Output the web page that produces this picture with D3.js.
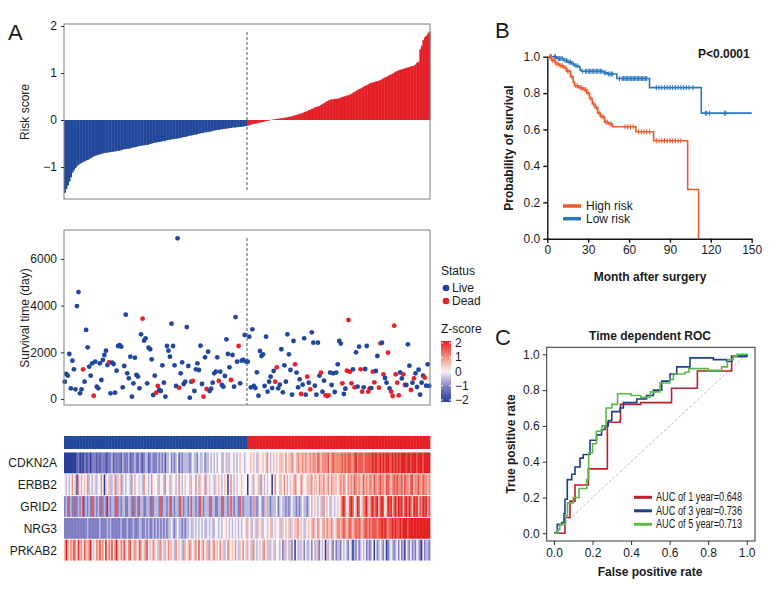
<!DOCTYPE html>
<html>
<head>
<meta charset="utf-8">
<script src="https://cdn.jsdelivr.net/npm/d3@7"></script>
<style>
  body { margin: 0; background: #fff; }
  svg text { font-family: "Liberation Sans", Arial, sans-serif; fill: #1a1a1a; }
</style>
</head>
<body>
<svg id="chart" width="780" height="600"></svg>
<script>
// ---- data: risk score per patient, sorted (low risk first) ----
var riskScore = [
  -1.55,-1.47,-1.39,-1.31,-1.22,-1.12,-1.07,-1.02,-0.98,-0.95,
  -0.93,-0.91,-0.89,-0.88,-0.86,-0.85,-0.83,-0.81,-0.79,-0.77,
  -0.76,-0.75,-0.74,-0.73,-0.72,-0.71,-0.70,-0.70,-0.69,-0.69,
  -0.68,-0.68,-0.67,-0.67,-0.66,-0.66,-0.65,-0.64,-0.63,-0.62,
  -0.62,-0.61,-0.61,-0.60,-0.59,-0.58,-0.58,-0.57,-0.56,-0.55,
  -0.55,-0.54,-0.54,-0.53,-0.53,-0.52,-0.51,-0.50,-0.49,-0.48,
  -0.48,-0.47,-0.47,-0.46,-0.45,-0.45,-0.44,-0.43,-0.42,-0.42,
  -0.41,-0.41,-0.40,-0.40,-0.39,-0.39,-0.38,-0.37,-0.36,-0.36,
  -0.35,-0.34,-0.33,-0.33,-0.32,-0.31,-0.31,-0.30,-0.29,-0.28,
  -0.28,-0.27,-0.26,-0.26,-0.25,-0.25,-0.24,-0.23,-0.22,-0.22,
  -0.21,-0.21,-0.20,-0.20,-0.19,-0.19,-0.18,-0.18,-0.17,-0.17,
  -0.16,-0.16,-0.16,-0.15,-0.15,-0.15,-0.14,-0.14,-0.13,-0.13,
  -0.12,-0.11,-0.10,-0.09,-0.08,-0.08,-0.07,-0.06,-0.05,-0.05,
  -0.04,-0.03,-0.02,-0.02,-0.01,0.00,0.01,0.01,0.02,0.02,
  0.03,0.03,0.04,0.04,0.05,0.05,0.06,0.07,0.07,0.08,
  0.09,0.10,0.11,0.12,0.13,0.14,0.15,0.17,0.18,0.19,
  0.21,0.22,0.24,0.25,0.27,0.28,0.29,0.30,0.32,0.34,
  0.36,0.38,0.40,0.42,0.43,0.44,0.44,0.45,0.45,0.46,
  0.46,0.48,0.49,0.50,0.51,0.52,0.53,0.54,0.56,0.58,
  0.60,0.62,0.64,0.66,0.67,0.69,0.71,0.73,0.74,0.76,
  0.78,0.79,0.80,0.81,0.82,0.83,0.84,0.85,0.87,0.89,
  0.91,0.92,0.94,0.96,0.97,0.99,1.01,1.03,1.04,1.06,
  1.07,1.08,1.09,1.10,1.11,1.12,1.13,1.14,1.15,1.16,
  1.18,1.22,1.24,1.50,1.58,1.70,1.76,1.79,1.84,1.88
];

// survival time (days) and status (1 = dead), same patient order
var survTime = [
  741,1070,1000,1927,458,1640,1270,414,3979,4579,
  243,414,1270,741,2960,2213,1384,1000,1527,140,
  1598,527,457,1527,814,1670,1884,2070,1455,1570,
  243,1555,1498,270,1213,2270,2310,2240,498,1413,
  3610,1098,884,1812,100,670,1770,1028,960,456,
  2770,3440,2500,2600,670,2200,2130,1698,171,1000,
  270,557,385,343,1442,700,100,2270,2070,1812,
  3225,2270,1442,557,6880,484,1098,1570,642,741,
  3080,1413,57,741,770,343,1270,1527,1242,2285,
  642,100,1784,428,2027,343,442,700,1098,1170,
  1784,770,1170,600,528,984,2556,1927,1356,813,
  1884,528,3510,1598,2270,670,1640,1670,2740,1598,
  1598,2668,500,2985,557,470,1142,143,2055,1841,
  1914,557,2668,313,742,955,470,1200,741,1357,
  457,614,2130,286,1442,743,2770,1914,1242,186,
  2484,1484,1130,500,843,214,613,2600,186,955,
  700,415,2856,2411,571,185,2411,1000,1127,313,
  785,157,128,157,1130,600,1100,300,1130,1484,
  2484,2373,672,214,443,1212,3383,1170,672,1270,
  500,2000,528,2240,1270,313,500,1285,2270,313,
  458,470,1170,715,1200,1841,484,2384,2411,1057,
  900,700,1984,457,313,128,3140,1057,700,157,
  1140,880,1057,600,600,2341,1427,385,700,885,
  1100,514,1256,186,700,1000,913,571,1484,560
];
var survStatus = [
  0,0,0,0,0,0,0,0,0,0, 0,0,1,0,0,0,0,0,0,1,
  0,0,0,0,0,0,0,0,0,1, 0,0,0,0,0,0,0,0,0,0,
  0,0,0,0,0,0,0,0,0,0, 0,1,0,0,0,0,0,0,0,0,
  1,1,0,0,0,0,0,0,0,0, 0,0,0,0,0,1,0,0,0,0,
  0,0,0,0,1,0,0,0,0,0, 0,1,0,1,0,0,0,0,0,0,
  0,1,0,0,0,0,0,0,0,1, 0,0,0,0,1,0,0,0,0,0,
  0,0,0,0,0,0,0,0,0,0, 0,0,0,0,0,0,0,0,1,1,
  0,0,0,0,0,0,0,0,0,0, 0,1,0,0,0,1,0,0,0,1,
  0,1,0,0,0,0,0,0,1,0, 0,1,1,1,0,0,0,0,0,0,
  0,0,1,0,0,1,1,1,1,0, 1,0,0,0,1,1,0,0,0,1,
  1,0,1,1,0,0,1,1,0,1, 0,0,1,0,1,1,1,1,1,1,
  0,0,1,1,0,0,0,1,0,1, 0,0,0,0,0,0,1,0,0,0
];

// heatmap z-scores, coded 0..8 for -2..2 in steps of 0.5
var genes = ["CDKN2A", "ERBB2", "GRID2", "NRG3", "PRKAB2"];
var zCodes = [
  ["00000000120102112022","21212221122312222132","22312232132123312322","23232313342323413233",
   "33234332433423343434","34433435344343454434","44545435445456434545","45554645565456556565",
   "56566576566667567666","66767677667867776777","77878778787887787878","78887887888788878888"].join(""),
  ["43434643164345463434","53446405453346354634","34436434454364434644","45344364435443464345",
   "44534464354463454435","45434540464345445444","04453445364345440464","45546434545654465445",
   "55645546556456465554","56565465657656557565","66576567665776567676","67576657756676576656"].join(""),
  ["23273227232382323272","32327232832332723233","22332723273322332723","33272332372323327323",
   "32373323273233327332","23372332373233273233","33236323432353323334","23433232343323234332",
   "34345434536454354345","45786457874587456785","57867857874587857868","78578687587857687857"].join(""),
  ["22222222222222232222","22232222323222222322","23222322233223232232","32323232334323433232",
   "33433434343433434334","43434454343454343445","34534535453445453454","45354545354556454354",
   "54565465456465565456","65676567656767656776","76777677878767787877","87888788888888888888"].join(""),
  ["58646576485647556845","46575648465746854657","54674565476456745465","45364534655436454365",
   "45654564745645364564","54645346545464354645","34536434543643534534","43425343524043534243",
   "34243532434053432423","32434324303242343423","23404234324023432342","42304324232432042332"].join("")
];
var zTicks = [2, 1, 0, -1, -2];

// Kaplan-Meier (months): step times and survival after each step
var highTime = [0,3,6,9,12,14,17,19,20,23,26,29,31,33,35,37,39,42,45,48,65,78,103,111];
var highSurv = [1,0.98,0.96,0.95,0.94,0.92,0.89,0.86,0.84,0.83,0.82,0.80,0.77,0.74,0.72,0.69,0.67,0.64,0.63,0.615,0.588,0.538,0.27,0];
var highCensor = [2,4,5,7,8,10,11,13,15,16,18,21,22,24,25,27,28,30,32,34,36,38,40,41,43,44,46,47,
                  57,59,61,63,67,69,71,73,75,80,82,84,86,88,90,92,94,96,98];
var lowTime = [0,7,12,15,18,20,23,24,25,41,44,51,75,113,150];
var lowSurv = [1,0.99,0.98,0.97,0.96,0.95,0.945,0.927,0.92,0.912,0.905,0.88,0.83,0.69,0.69];
var lowCensor = [2,3,5,6,8,9,10,11,13,14,16,17,19,21,22,26,28,29,30,31,32,33,34,35,36,37,38,39,
                 40,42,43,45,46,47,48,53,55,56,57,58,59,60,61,62,63,64,65,66,67,68,69,70,71,72,73,
                 80,82,84,86,88,90,92,94,96,98,100,102,104,107,116,117,119,130,131];

// time dependent ROC points [fpr, tpr]
var roc1 = [[0,0],[0.057,0],[0.057,0.088],[0.083,0.088],[0.083,0.18],[0.109,0.18],[0.109,0.27],
            [0.178,0.27],[0.178,0.36],[0.277,0.36],[0.277,0.62],[0.343,0.62],[0.343,0.63],[0.345,0.63],
            [0.345,0.72],[0.45,0.72],[0.45,0.73],[0.61,0.73],[0.61,0.81],[0.744,0.81],[0.744,0.907],
            [0.922,0.907],[0.922,0.987],[1,0.987],[1,1]];
var roc3 = [[0,0],[0.017,0],[0.017,0.05],[0.04,0.05],[0.04,0.06],[0.052,0.06],[0.052,0.11],[0.057,0.11],
            [0.057,0.19],[0.069,0.19],[0.069,0.3],[0.092,0.3],[0.092,0.33],[0.109,0.33],[0.109,0.37],
            [0.135,0.37],[0.135,0.42],[0.152,0.42],[0.152,0.44],[0.187,0.44],[0.187,0.52],[0.221,0.52],
            [0.221,0.55],[0.247,0.55],[0.247,0.58],[0.265,0.58],[0.265,0.6],[0.282,0.6],[0.282,0.63],
            [0.3,0.63],[0.3,0.68],[0.343,0.68],[0.343,0.7],[0.36,0.7],[0.36,0.73],[0.43,0.73],[0.43,0.75],
            [0.48,0.75],[0.48,0.77],[0.516,0.77],[0.516,0.8],[0.559,0.8],[0.559,0.85],[0.602,0.85],
            [0.602,0.89],[0.637,0.89],[0.637,0.93],[0.706,0.93],[0.706,0.98],[0.827,0.98],[0.827,0.97],
            [0.896,0.97],[0.896,0.96],[0.922,0.96],[0.922,0.99],[1,0.99],[1,1]];
var roc5 = [[0,0],[0.02,0],[0.02,0.02],[0.03,0.02],[0.03,0.05],[0.06,0.05],[0.06,0.1],[0.07,0.1],
            [0.07,0.17],[0.1,0.17],[0.1,0.2],[0.13,0.2],[0.13,0.25],[0.17,0.25],[0.17,0.3],[0.18,0.3],
            [0.18,0.45],[0.2,0.45],[0.2,0.5],[0.22,0.5],[0.22,0.57],[0.25,0.57],[0.25,0.6],[0.27,0.6],
            [0.27,0.7],[0.3,0.7],[0.3,0.72],[0.33,0.72],[0.33,0.78],[0.4,0.78],[0.4,0.77],[0.45,0.77],
            [0.45,0.76],[0.5,0.76],[0.5,0.79],[0.55,0.79],[0.55,0.84],[0.6,0.84],[0.6,0.86],[0.62,0.86],
            [0.62,0.89],[0.68,0.89],[0.68,0.9],[0.7,0.9],[0.7,0.92],[0.8,0.92],[0.8,0.91],[0.87,0.91],
            [0.87,0.93],[0.9,0.93],[0.9,0.97],[0.93,0.97],[0.93,0.99],[0.95,0.99],[0.95,1],[1,1]];
var rocLabels = ["AUC of 1 year=0.648", "AUC of 3 year=0.736", "AUC of 5 year=0.713"];

// ---- colours ----
var blue = "#21489a", red = "#e41f26";
var kmHigh = "#ef5a2a", kmLow = "#2878bf";
var rocColors = ["#be1e2d", "#1c3f8e", "#5cb946"];

var svg = d3.select("#chart");
var N = riskScore.length;
var half = N / 2;
function groupColor(i){ return i < half ? blue : red; }
function minusFmt(d){ return d < 0 ? "\u2212" + Math.abs(d) : String(d); }

// ================= Panel A: risk score =================
var xA = d3.scaleBand().domain(d3.range(N)).range([64, 430]).padding(0);
var yRisk = d3.scaleLinear().domain([-1.681, 2.043]).range([199, 24]);

svg.append("text").attr("x", 8).attr("y", 40).style("font-size", "22px").text("A");

var gRisk = svg.append("g");
gRisk.selectAll("rect.bar")
  .data(riskScore)
  .enter().append("rect")
    .attr("class", "bar")
    .attr("x", function(d, i){ return xA(i); })
    .attr("y", function(d){ return yRisk(Math.max(0, d)); })
    .attr("width", xA.bandwidth() + 0.4)
    .attr("height", function(d){ return Math.abs(yRisk(d) - yRisk(0)); })
    .attr("fill", function(d, i){ return groupColor(i); });

gRisk.append("line")
  .attr("x1", xA(half)).attr("x2", xA(half))
  .attr("y1", 32).attr("y2", 192)
  .attr("stroke", "#555").attr("stroke-dasharray", "3,2");

gRisk.append("rect").attr("x", 64).attr("y", 24).attr("width", 366).attr("height", 175)
  .attr("fill", "none").attr("stroke", "#7f7f7f");

var axRisk = gRisk.append("g").attr("transform", "translate(64,0)")
  .call(d3.axisLeft(yRisk).tickValues([-1, 0, 1, 2]).tickSize(3).tickFormat(minusFmt));
axRisk.select(".domain").remove();
axRisk.selectAll("line").attr("stroke", "#333");
axRisk.selectAll("text").style("font-size", "12px").attr("dx", "-1");

svg.append("text")
  .attr("transform", "translate(29,112) rotate(-90)")
  .style("text-anchor", "middle").style("font-size", "12px")
  .text("Risk score");

// ================= Panel A: survival scatter =================
var ySurv = d3.scaleLinear().domain([-257, 7238]).range([405, 230]);
var gSurv = svg.append("g");

gSurv.append("line")
  .attr("x1", xA(half)).attr("x2", xA(half))
  .attr("y1", 238).attr("y2", 405)
  .attr("stroke", "#555").attr("stroke-dasharray", "3,2");

gSurv.selectAll("circle")
  .data(survTime)
  .enter().append("circle")
    .attr("cx", function(d, i){ return xA(i) + xA.bandwidth() / 2; })
    .attr("cy", function(d){ return ySurv(d); })
    .attr("r", 2.4)
    .attr("fill", function(d, i){ return survStatus[i] ? "#e8202a" : "#1f47a0"; });

gSurv.append("rect").attr("x", 64).attr("y", 230).attr("width", 366).attr("height", 175)
  .attr("fill", "none").attr("stroke", "#7f7f7f");

var axSurv = gSurv.append("g").attr("transform", "translate(64,0)")
  .call(d3.axisLeft(ySurv).tickValues([0, 2000, 4000, 6000]).tickSize(3).tickFormat(d3.format("d")));
axSurv.select(".domain").remove();
axSurv.selectAll("line").attr("stroke", "#333");
axSurv.selectAll("text").style("font-size", "12px").attr("dx", "-1");

svg.append("text")
  .attr("transform", "translate(29,318) rotate(-90)")
  .style("text-anchor", "middle").style("font-size", "12px")
  .text("Survival time (day)");

// status legend
var gLeg = svg.append("g").attr("transform", "translate(440,0)");
gLeg.append("text").attr("x", 1).attr("y", 275).style("font-size", "12px").text("Status");
[["Live", "#1f47a0"], ["Dead", "#e8202a"]].forEach(function(s, k){
  gLeg.append("circle").attr("cx", 6).attr("cy", 288 + k * 13).attr("r", 3.3).attr("fill", s[1]);
  gLeg.append("text").attr("x", 12).attr("y", 292 + k * 13).style("font-size", "12px").text(s[0]);
});

// ================= Panel A: heatmap =================
var zColor = d3.scaleLinear()
  .domain([-2, -1, 0, 1, 2])
  .range(["#283c98", "#7f7ec3", "#f7f3f8", "#f08a7a", "#e41f22"]);

var heatTop = 452.5, rowH = 21.8;
var gHeat = svg.append("g");

// risk group annotation bar
gHeat.selectAll("rect.ann")
  .data(d3.range(N))
  .enter().append("rect")
    .attr("class", "ann")
    .attr("x", function(i){ return xA(i); })
    .attr("y", 436).attr("height", 13)
    .attr("width", xA.bandwidth() + 0.4)
    .attr("fill", groupColor);

genes.forEach(function(g, r){
  var codes = zCodes[r].split("").slice(0, N).map(function(c){ return (+c - 4) / 2; });
  gHeat.append("g")
    .selectAll("rect")
    .data(codes)
    .enter().append("rect")
      .attr("x", function(d, i){ return xA(i); })
      .attr("y", heatTop + r * rowH)
      .attr("width", xA.bandwidth() + 0.4)
      .attr("height", rowH - 1)
      .attr("fill", function(d){ return zColor(d); });
  gHeat.append("text")
    .attr("x", 57).attr("y", heatTop + r * rowH + rowH / 2 + 4)
    .style("text-anchor", "end").style("font-size", "12px")
    .text(g);
});

// z-score colour legend
var zScale = d3.scaleLinear().domain([2, -2]).range([343, 400]);
var defs = svg.append("defs");
var grad = defs.append("linearGradient").attr("id", "zgrad")
  .attr("x1", 0).attr("x2", 0).attr("y1", 0).attr("y2", 1);
[2, 1, 0, -1, -2].forEach(function(v){
  grad.append("stop").attr("offset", (2 - v) / 4).attr("stop-color", zColor(v));
});
svg.append("text").attr("x", 441).attr("y", 333).style("font-size", "12px").text("Z-score");
svg.append("rect").attr("x", 441).attr("y", 341).attr("width", 10).attr("height", 61)
  .attr("fill", "url(#zgrad)");
zTicks.forEach(function(v){
  svg.append("line").attr("x1", 441).attr("x2", 443).attr("y1", zScale(v)).attr("y2", zScale(v))
    .attr("stroke", "#fff");
  svg.append("line").attr("x1", 449).attr("x2", 451).attr("y1", zScale(v)).attr("y2", zScale(v))
    .attr("stroke", "#fff");
  svg.append("text").attr("x", 455).attr("y", zScale(v) + 4).style("font-size", "12px")
    .text(minusFmt(v));
});

// ================= Panel B: Kaplan-Meier =================
var xKM = d3.scaleLinear().domain([0, 150]).range([547.3, 751.7]);
var yKM = d3.scaleLinear().domain([0, 1]).range([238.7, 56.7]);
var gKM = svg.append("g");

svg.append("text").attr("x", 495).attr("y", 38).style("font-size", "22px").text("B");

function stepAt(times, surv, t){
  var k = d3.bisectRight(times, t) - 1;
  return surv[Math.max(0, k)];
}
var kmLine = d3.line()
  .x(function(d){ return xKM(d[0]); })
  .y(function(d){ return yKM(d[1]); })
  .curve(d3.curveStepAfter);

[[lowTime, lowSurv, lowCensor, kmLow], [highTime, highSurv, highCensor, kmHigh]].forEach(function(s){
  var pts = s[0].map(function(t, k){ return [t, s[1][k]]; });
  gKM.append("path").attr("d", kmLine(pts)).attr("fill", "none")
    .attr("stroke", s[3]).attr("stroke-width", 1.6);
  gKM.selectAll(null).data(s[2]).enter().append("line")
    .attr("x1", function(t){ return xKM(t); }).attr("x2", function(t){ return xKM(t); })
    .attr("y1", function(t){ return yKM(stepAt(s[0], s[1], t)) - 2.5; })
    .attr("y2", function(t){ return yKM(stepAt(s[0], s[1], t)) + 2.5; })
    .attr("stroke", s[3]).attr("stroke-width", 1);
});

var axKMx = gKM.append("g").attr("transform", "translate(0,238.7)")
  .call(d3.axisBottom(xKM).tickValues([0, 30, 60, 90, 120, 150]).tickSize(4).tickSizeOuter(0));
var axKMy = gKM.append("g").attr("transform", "translate(547.3,0)")
  .call(d3.axisLeft(yKM).tickValues([0, 0.2, 0.4, 0.6, 0.8, 1]).tickFormat(d3.format(".1f")).tickSize(4).tickSizeOuter(0));
[axKMx, axKMy].forEach(function(a){
  a.selectAll("path, line").attr("stroke", "#111").attr("stroke-width", 1.4);
  a.selectAll("text").style("font-size", "12px");
});

svg.append("text").attr("x", 650).attr("y", 281).style("text-anchor", "middle")
  .style("font-size", "12px").style("font-weight", "bold").text("Month after surgery");
svg.append("text").attr("transform", "translate(513,148) rotate(-90)")
  .style("text-anchor", "middle").style("font-size", "12px").style("font-weight", "bold")
  .text("Probability of survival");
svg.append("text").attr("x", 698).attr("y", 58)
  .style("font-size", "12px").style("font-weight", "bold").text("P<0.0001");

[["High risk", kmHigh], ["Low risk", kmLow]].forEach(function(s, k){
  var yy = 206 + k * 12.7;
  svg.append("line").attr("x1", 563).attr("x2", 581).attr("y1", yy).attr("y2", yy)
    .attr("stroke", s[1]).attr("stroke-width", 3.5);
  svg.append("text").attr("x", 586).attr("y", yy + 4).style("font-size", "12px").text(s[0]);
});

// ================= Panel C: time dependent ROC =================
var xROC = d3.scaleLinear().domain([0, 1]).range([554, 746.7]);
var yROC = d3.scaleLinear().domain([0, 1]).range([533.3, 354.3]);
var gROC = svg.append("g");

svg.append("text").attr("x", 495).attr("y", 345).style("font-size", "22px").text("C");
svg.append("text").attr("x", 650).attr("y", 340).style("text-anchor", "middle")
  .style("font-size", "12px").style("font-weight", "bold").text("Time dependent ROC");

gROC.append("line")
  .attr("x1", xROC(0)).attr("y1", yROC(0)).attr("x2", xROC(1)).attr("y2", yROC(1))
  .attr("stroke", "#bdbdbd").attr("stroke-dasharray", "3,2");

var rocLine = d3.line()
  .x(function(d){ return xROC(d[0]); })
  .y(function(d){ return yROC(d[1]); });
[roc1, roc3, roc5].forEach(function(pts, k){
  gROC.append("path").attr("d", rocLine(pts)).attr("fill", "none")
    .attr("stroke", rocColors[k]).attr("stroke-width", 1.6);
});

gROC.append("rect").attr("x", 546.7).attr("y", 347.3).attr("width", 208.3).attr("height", 193.7)
  .attr("fill", "none").attr("stroke", "#333");

var axROCx = gROC.append("g").attr("transform", "translate(0,541)")
  .call(d3.axisBottom(xROC).tickValues([0, 0.2, 0.4, 0.6, 0.8, 1]).tickFormat(d3.format(".1f")).tickSize(4).tickSizeOuter(0));
var axROCy = gROC.append("g").attr("transform", "translate(546.7,0)")
  .call(d3.axisLeft(yROC).tickValues([0, 0.2, 0.4, 0.6, 0.8, 1]).tickFormat(d3.format(".1f")).tickSize(4).tickSizeOuter(0));
[axROCx, axROCy].forEach(function(a){
  a.select(".domain").remove();
  a.selectAll("line").attr("stroke", "#333");
  a.selectAll("text").style("font-size", "12px");
});

svg.append("text").attr("x", 650).attr("y", 576).style("text-anchor", "middle")
  .style("font-size", "12px").style("font-weight", "bold").text("False positive rate");
svg.append("text").attr("transform", "translate(515,444) rotate(-90)")
  .style("text-anchor", "middle").style("font-size", "12px").style("font-weight", "bold")
  .text("True positive rate");

// legend labels squeezed to the narrow width of the original condensed face
rocLabels.forEach(function(lab, k){
  var yy = 497.3 + k * 13.5;
  svg.append("line").attr("x1", 634).attr("x2", 652).attr("y1", yy).attr("y2", yy)
    .attr("stroke", rocColors[k]).attr("stroke-width", 3);
  svg.append("text").attr("x", 656).attr("y", yy + 4).style("font-size", "12px")
    .attr("textLength", 86).attr("lengthAdjust", "spacingAndGlyphs").text(lab);
});
</script>
</body>
</html>
